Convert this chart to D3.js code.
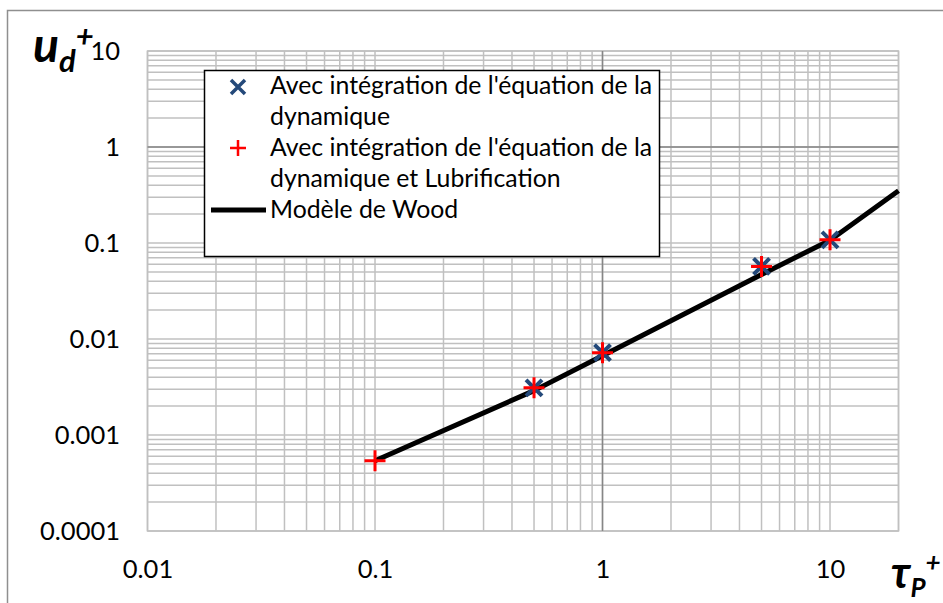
<!DOCTYPE html>
<html>
<head>
<meta charset="utf-8">
<script src="https://cdn.jsdelivr.net/npm/d3@7/dist/d3.min.js"></script>
<style>
  html, body { margin: 0; padding: 0; background: #fff; }
  svg { display: block; }
  text { font-family: Lato, "DejaVu Sans", sans-serif; fill: #000; }
</style>
</head>
<body>
<svg id="chart" width="943" height="603"></svg>
<script>
// ---- data ----
const tauDyn = [0.5, 1, 5, 10];
const udDyn = [0.0031, 0.0072, 0.057, 0.108];

const tauLub = [0.1, 0.5, 1, 5, 10];
const udLub = [0.00054, 0.0031, 0.0072, 0.057, 0.108];

const tauWood = [0.1, 0.5, 1, 5, 10, 20];
const udWood = [0.00054, 0.0029, 0.0067, 0.047, 0.107, 0.35];

const xTickValues = [0.01, 0.1, 1, 10];
const xTickLabels = ["0.01", "0.1", "1", "10"];
const yTickValues = [0.0001, 0.001, 0.01, 0.1, 1, 10];
const yTickLabels = ["0.0001", "0.001", "0.01", "0.1", "1", "10"];

const legendLabels = [
  ["Avec intégration de l'équation de la", "dynamique"],
  ["Avec intégration de l'équation de la", "dynamique et Lubrification"],
  ["Modèle de Wood"]
];

// ---- layout ----
const svg = d3.select("#chart");
const L = 147.5, R = 898.5, T = 51, B = 531;

const x = d3.scaleLog().domain([0.01, 20]).range([L, R]);
const y = d3.scaleLog().domain([0.0001, 10]).range([B, T]);

// outer chart border
svg.append("rect").attr("x", 7.5).attr("y", 10.5).attr("width", 1000).attr("height", 1000)
  .attr("fill", "#fff").attr("stroke", "#8f8f8f").attr("stroke-width", 1.5);

// grid
const grid = svg.append("g").attr("stroke", "#c0c0c0").attr("stroke-width", 1.5).attr("fill", "none");
x.ticks().forEach(v => {
  grid.append("line").attr("x1", x(v)).attr("x2", x(v)).attr("y1", T).attr("y2", B);
});
y.ticks().forEach(v => {
  grid.append("line").attr("y1", y(v)).attr("y2", y(v)).attr("x1", L).attr("x2", R);
});
grid.append("rect").attr("x", L).attr("y", T).attr("width", R - L).attr("height", B - T);

// axis lines crossing at 1
svg.append("line").attr("x1", x(1)).attr("x2", x(1)).attr("y1", T).attr("y2", B)
  .attr("stroke", "#868686").attr("stroke-width", 1.5);
svg.append("line").attr("x1", L).attr("x2", R).attr("y1", y(1)).attr("y2", y(1))
  .attr("stroke", "#868686").attr("stroke-width", 1.5);

// tick labels via axes
const tickFs = 25.5;
const yAxis = d3.axisLeft(y).tickValues(yTickValues).tickSize(0).tickPadding(0)
  .tickFormat((d, i) => yTickLabels[i]);
const gy = svg.append("g").attr("transform", "translate(120,0)").call(yAxis);
gy.select(".domain").remove();
gy.selectAll("text").attr("font-size", tickFs).attr("dy", "0.35em").attr("x", 0)
  .style("font-family", "Lato, 'DejaVu Sans', sans-serif");

const xAxis = d3.axisBottom(x).tickValues(xTickValues).tickSize(0).tickPadding(0)
  .tickFormat((d, i) => xTickLabels[i]);
const gx = svg.append("g").attr("transform", "translate(0,569)").call(xAxis);
gx.select(".domain").remove();
gx.selectAll("text").attr("font-size", tickFs).attr("dy", "0.35em").attr("y", 0)
  .style("font-family", "Lato, 'DejaVu Sans', sans-serif");

// Wood line
const line = d3.line().x(d => x(d[0])).y(d => y(d[1]));
svg.append("path").datum(tauWood.map((t, i) => [t, udWood[i]]))
  .attr("d", line).attr("fill", "none").attr("stroke", "#000").attr("stroke-width", 5)
  .attr("stroke-linejoin", "round");

// markers
const xPath = r => `M${-r},${-r}L${r},${r}M${-r},${r}L${r},${-r}`;
const plusPath = r => `M${-r},0L${r},0M0,${-r}L0,${r}`;

svg.append("g").selectAll("path").data(tauDyn.map((t, i) => [t, udDyn[i]])).join("path")
  .attr("transform", d => `translate(${x(d[0])},${y(d[1])})`)
  .attr("d", xPath(8)).attr("stroke", "#24497a").attr("stroke-width", 4).attr("fill", "none");

svg.append("g").selectAll("path").data(tauLub.map((t, i) => [t, udLub[i]])).join("path")
  .attr("transform", d => `translate(${x(d[0])},${y(d[1])})`)
  .attr("d", plusPath(10.5)).attr("stroke", "#ff0000").attr("stroke-width", 3).attr("fill", "none");

// legend
const lg = svg.append("g");
lg.append("rect").attr("x", 204.5).attr("y", 70.5).attr("width", 455).attr("height", 186)
  .attr("fill", "#fff").attr("stroke", "#000").attr("stroke-width", 1.5);
const textX = 270;
const baselines = [[94, 125], [156, 187], [218]];
const fs = 24.8;
legendLabels.forEach((lines, k) => {
  lines.forEach((s, j) => {
    lg.append("text").attr("x", textX).attr("y", baselines[k][j]).attr("font-size", fs).text(s);
  });
});
lg.append("path").attr("transform", "translate(238,87)").attr("d", xPath(7))
  .attr("stroke", "#24497a").attr("stroke-width", 3.5).attr("fill", "none");
lg.append("path").attr("transform", "translate(238,148)").attr("d", plusPath(8))
  .attr("stroke", "#ff0000").attr("stroke-width", 2.5).attr("fill", "none");
lg.append("line").attr("x1", 211).attr("x2", 266).attr("y1", 210).attr("y2", 210)
  .attr("stroke", "#000").attr("stroke-width", 5);

// axis titles
const yt = svg.append("text").attr("x", 33).attr("y", 62)
  .attr("font-weight", "bold").attr("font-style", "italic");
yt.append("tspan").attr("font-size", 48).text("u");
yt.append("tspan").attr("font-size", 31).attr("dy", 10).text("d");
yt.append("tspan").attr("font-size", 31).attr("dy", -25).text("+");

const xt = svg.append("text").attr("x", 891).attr("y", 588)
  .attr("font-weight", "bold").attr("font-style", "italic");
xt.append("tspan").attr("font-size", 44).text("τ");
xt.append("tspan").attr("font-size", 26).attr("dy", 9).text("P");
xt.append("tspan").attr("font-size", 26).attr("dy", -25).text("+");
</script>
</body>
</html>
